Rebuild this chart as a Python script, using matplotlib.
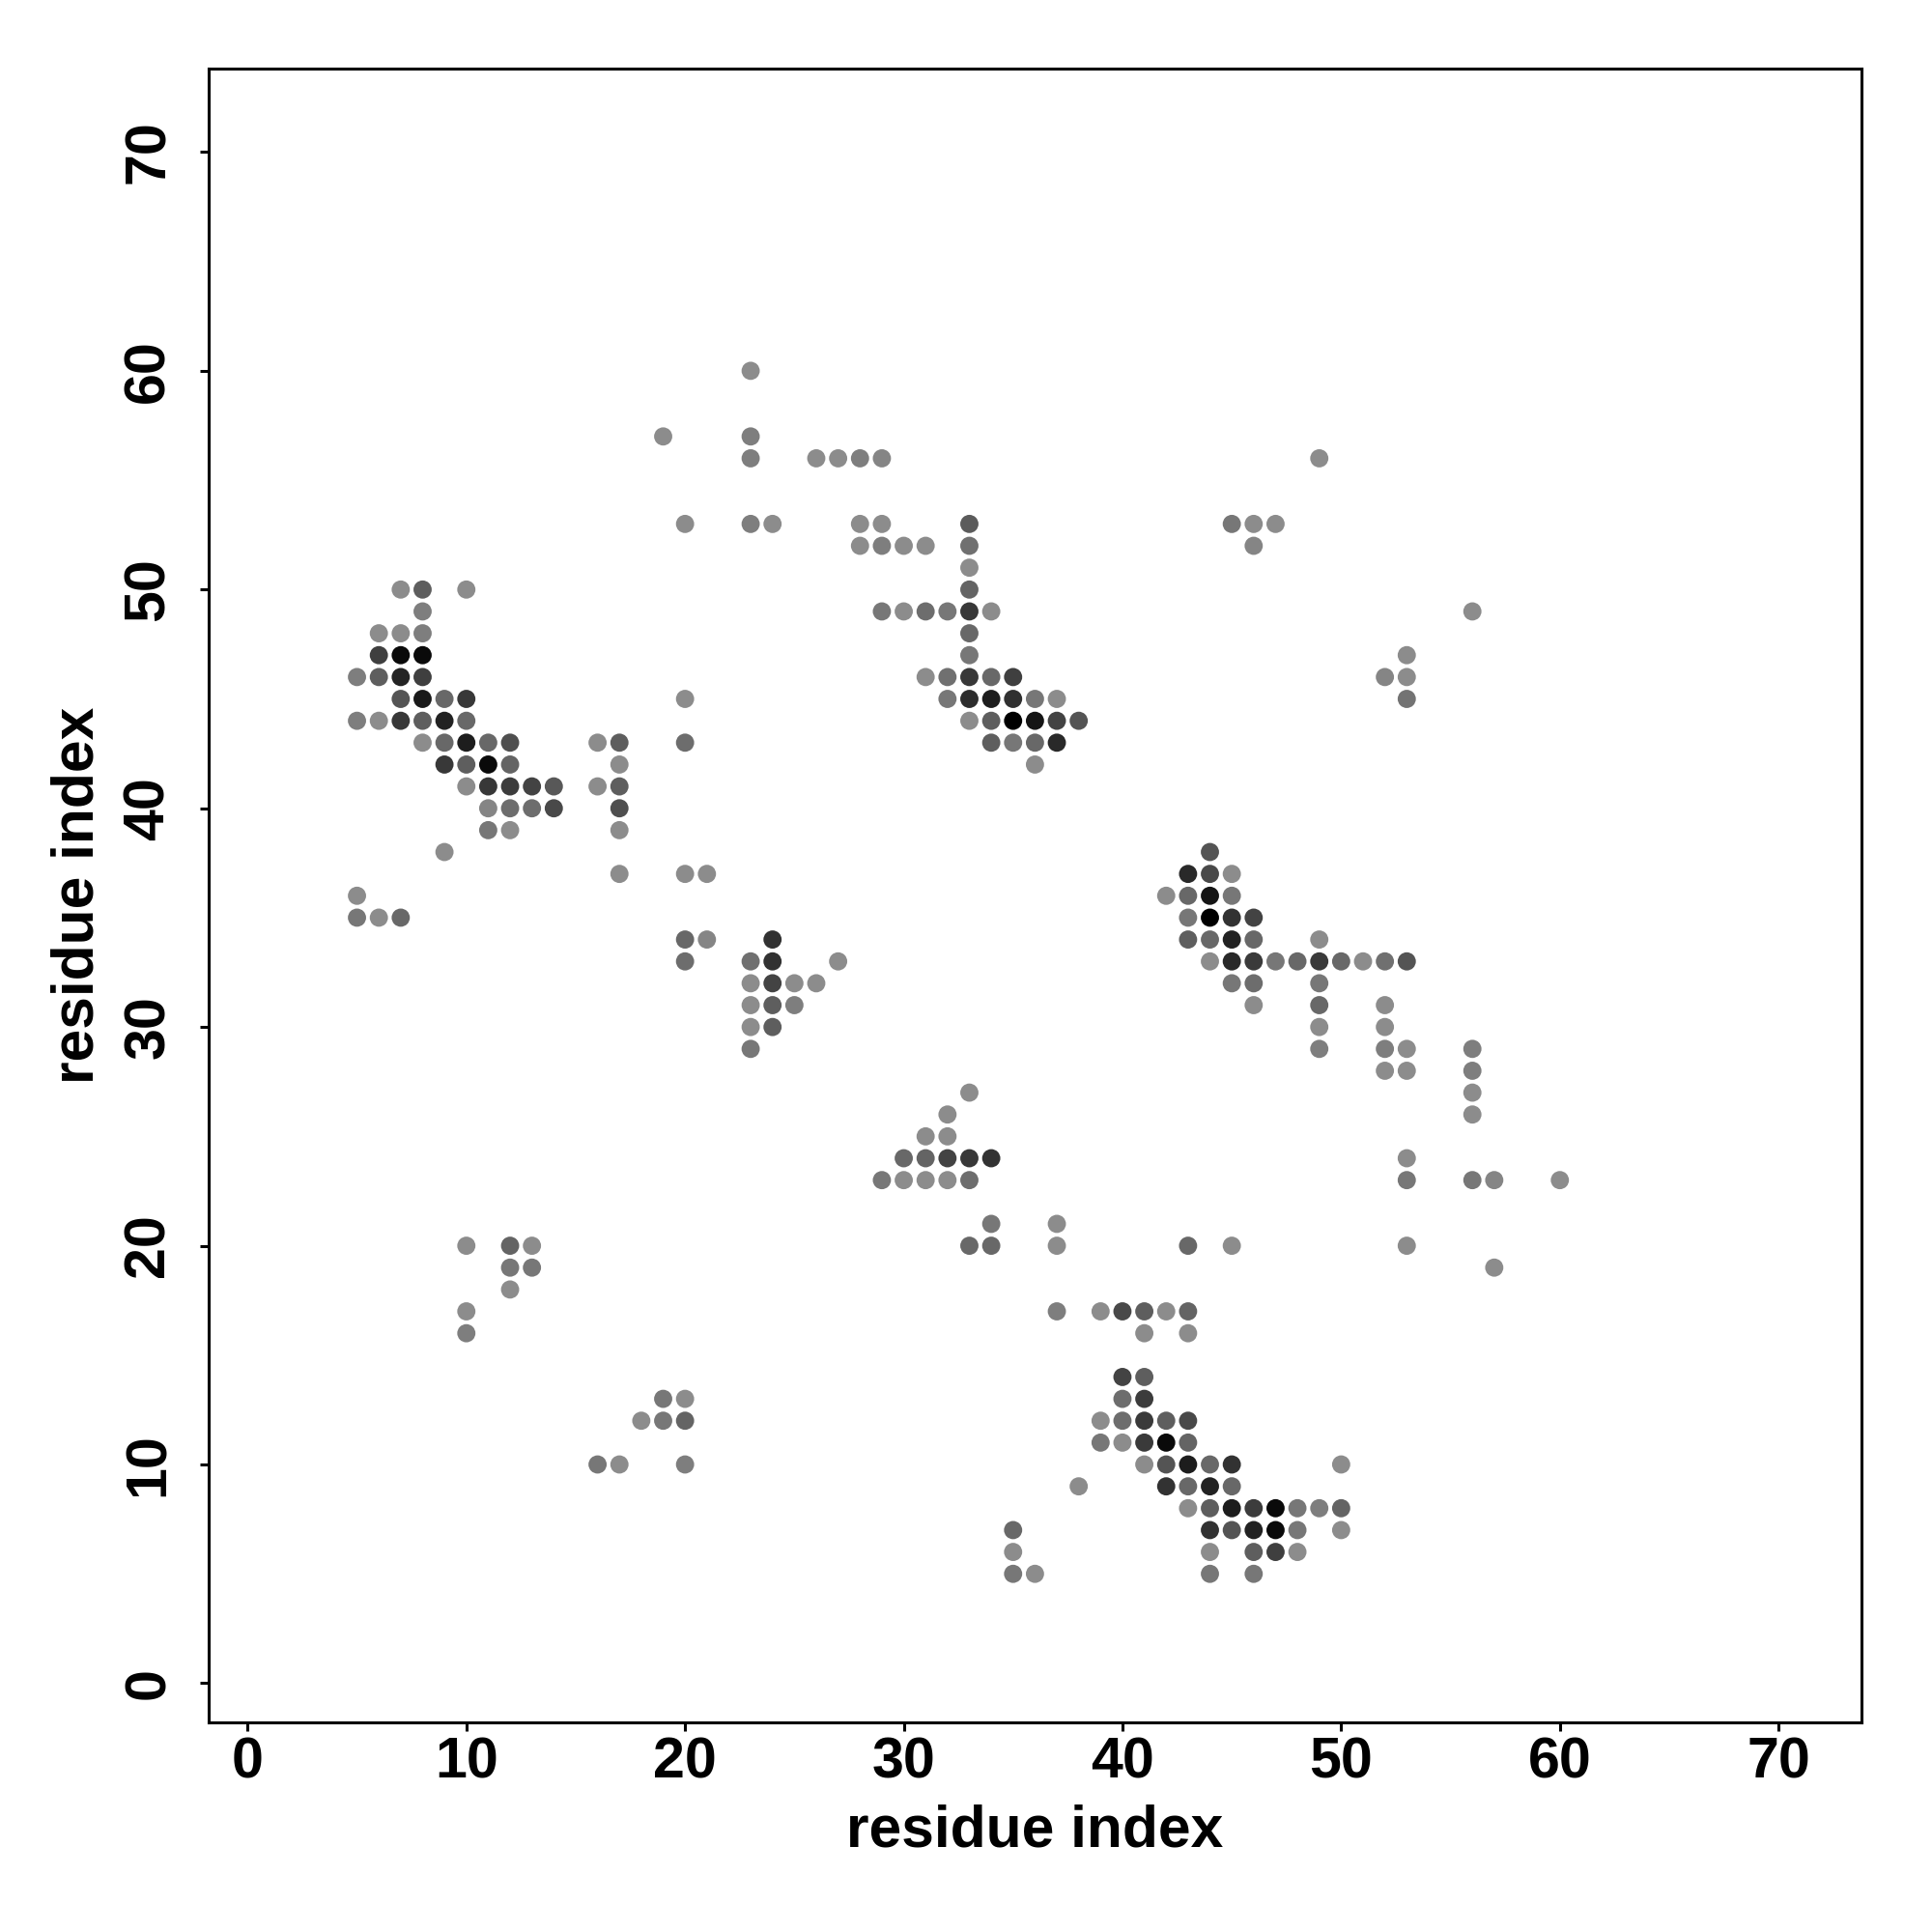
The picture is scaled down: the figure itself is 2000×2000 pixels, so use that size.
import numpy as np
import matplotlib
matplotlib.use("Agg")
from matplotlib import pyplot as plt

# contact map: one row of residue pairs per y index, score -> grey level
row_y = [60, 57, 56, 53, 52, 51, 50, 49, 48, 47, 46, 45, 44, 43, 42, 41, 40, 39,
         38, 37, 36, 35, 34, 33, 32, 31, 30, 29, 28, 27, 26, 25, 24, 23, 21, 20,
         19, 18, 17, 16, 14, 13, 12, 11, 10, 9, 8, 7, 6, 5]

row_x = [
    [23],
    [19, 23],
    [23, 26, 27, 28, 29, 49],
    [20, 23, 24, 28, 29, 33, 45, 46, 47],
    [28, 29, 30, 31, 33, 46],
    [33],
    [7, 8, 10, 33],
    [8, 29, 30, 31, 32, 33, 34, 56],
    [6, 7, 8, 33],
    [6, 7, 8, 33, 53],
    [5, 6, 7, 8, 31, 32, 33, 34, 35, 52, 53],
    [7, 8, 9, 10, 20, 32, 33, 34, 35, 36, 37, 53],
    [5, 6, 7, 8, 9, 10, 33, 34, 35, 36, 37, 38],
    [8, 9, 10, 11, 12, 16, 17, 20, 34, 35, 36, 37],
    [9, 10, 11, 12, 17, 36],
    [10, 11, 12, 13, 14, 16, 17],
    [11, 12, 13, 14, 17],
    [11, 12, 17],
    [9, 44],
    [17, 20, 21, 43, 44, 45],
    [5, 42, 43, 44, 45],
    [5, 6, 7, 43, 44, 45, 46],
    [20, 21, 24, 43, 44, 45, 46, 49],
    [20, 23, 24, 27, 44, 45, 46, 47, 48, 49, 50, 51, 52, 53],
    [23, 24, 25, 26, 45, 46, 49],
    [23, 24, 25, 46, 49, 52],
    [23, 24, 49, 52],
    [23, 49, 52, 53, 56],
    [52, 53, 56],
    [33, 56],
    [32, 56],
    [31, 32],
    [30, 31, 32, 33, 34, 53],
    [29, 30, 31, 32, 33, 53, 56, 57, 60],
    [34, 37],
    [10, 12, 13, 33, 34, 37, 43, 45, 53],
    [12, 13, 57],
    [12],
    [10, 37, 39, 40, 41, 42, 43],
    [10, 41, 43],
    [40, 41],
    [19, 20, 40, 41],
    [18, 19, 20, 39, 40, 41, 42, 43],
    [39, 40, 41, 42, 43],
    [16, 17, 20, 41, 42, 43, 44, 45, 50],
    [38, 42, 43, 44, 45],
    [43, 44, 45, 46, 47, 48, 49, 50],
    [35, 44, 45, 46, 47, 48, 50],
    [35, 44, 46, 47, 48],
    [35, 36, 44, 46],
]

row_score = [
    [0],
    [0, .1],
    [.1, 0, 0, .1, .05, 0],
    [0, .1, 0, 0, 0, .35, .15, 0, 0],
    [0, .1, 0, 0, .2, .05],
    [0],
    [0, .33, 0, .29],
    [.1, .15, 0, .22, .15, .6, 0, 0],
    [0, 0, .1, .26],
    [.55, .93, .93, .15, 0],
    [.1, .33, .74, .55, 0, .2, .6, .26, .55, .05, 0],
    [.4, .82, .26, .6, 0, .15, .68, .79, .66, .15, 0, .18],
    [.1, 0, .6, .33, .76, .26, 0, .33, 1, .85, .52, .4],
    [0, .26, .79, .26, .44, 0, .33, .22, .33, .15, .26, .71],
    [.6, .33, .93, .29, 0, 0],
    [0, .6, .57, .52, .37, 0, .33],
    [.05, .22, .22, .48, .44],
    [.15, 0, 0],
    [0, .4],
    [0, 0, 0, .71, .48, 0],
    [0, 0, .26, .85, .15],
    [.15, 0, .26, .15, 1, .64, .52],
    [.26, .05, .64, .33, .26, .76, .26, 0],
    [.22, .2, .64, 0, 0, .71, .59, .15, .26, .59, .26, 0, .2, .4],
    [0, .52, 0, 0, .15, .22, .15],
    [0, .33, .1, 0, .26, 0],
    [0, .33, 0, 0],
    [.15, .1, .1, 0, .1],
    [0, 0, .1],
    [0, 0],
    [0, 0],
    [0, 0],
    [.26, .29, .52, .6, .64, 0],
    [.15, 0, 0, 0, .22, .15, .15, .05, 0],
    [.15, 0],
    [0, .29, 0, .26, .26, 0, .26, 0, 0],
    [.15, .15, 0],
    [0],
    [0, .1, 0, .48, .33, 0, .29],
    [.1, 0, 0],
    [.52, .33],
    [.15, 0, .22, .57],
    [0, .15, .29, 0, .22, .59, .33, .48],
    [.15, 0, .59, .93, .29],
    [.15, 0, .1, 0, .4, .79, .26, .64, 0],
    [0, .64, .26, .76, .26],
    [0, .33, .79, .57, .93, .15, .1, .29],
    [.26, .64, .4, .76, .93, .15, 0],
    [0, 0, .33, .55, 0],
    [.15, 0, .15, .15],
]

ticks = [0, 10, 20, 30, 40, 50, 60, 70]

xs = np.concatenate([np.asarray(r, float) for r in row_x])
ys = np.concatenate([np.full(len(r), y, float) for r, y in zip(row_x, row_y)])
sc = np.concatenate([np.asarray(r, float) for r in row_score])
grey = 0.55 * (1 - sc)
colors = np.stack([grey, grey, grey], axis=1)

plt.rcParams['font.family'] = ['Liberation Sans', 'DejaVu Sans']
plt.rcParams['font.weight'] = 'bold'

fig = plt.figure(figsize=(10, 10), dpi=200)
ax = fig.add_axes([0.1078, 0.1084, 0.8558, 0.8559])
ax.scatter(xs, ys, s=46, c=colors, linewidths=0)

ax.set_xlim(-1.8, 73.8)
ax.set_ylim(-1.8, 73.8)
ax.set_xticks(ticks)
ax.set_yticks(ticks)
for sp in ax.spines.values():
    sp.set_linewidth(1.1)
ax.tick_params(axis='both', length=3.2, width=1.1, labelsize=21.3)
ax.tick_params(axis='x', pad=2)
ax.tick_params(axis='y', pad=9, labelrotation=90)
for lab in ax.get_yticklabels():
    lab.set_verticalalignment('center')

ax.set_xlabel("residue index", fontsize=21.8, fontweight='bold')
ax.set_ylabel("residue index", fontsize=21.8, fontweight='bold')
ax.xaxis.set_label_coords(0.5, -0.049)
ax.yaxis.set_label_coords(-0.062, 0.5)

fig.savefig("out.png", dpi=200)
